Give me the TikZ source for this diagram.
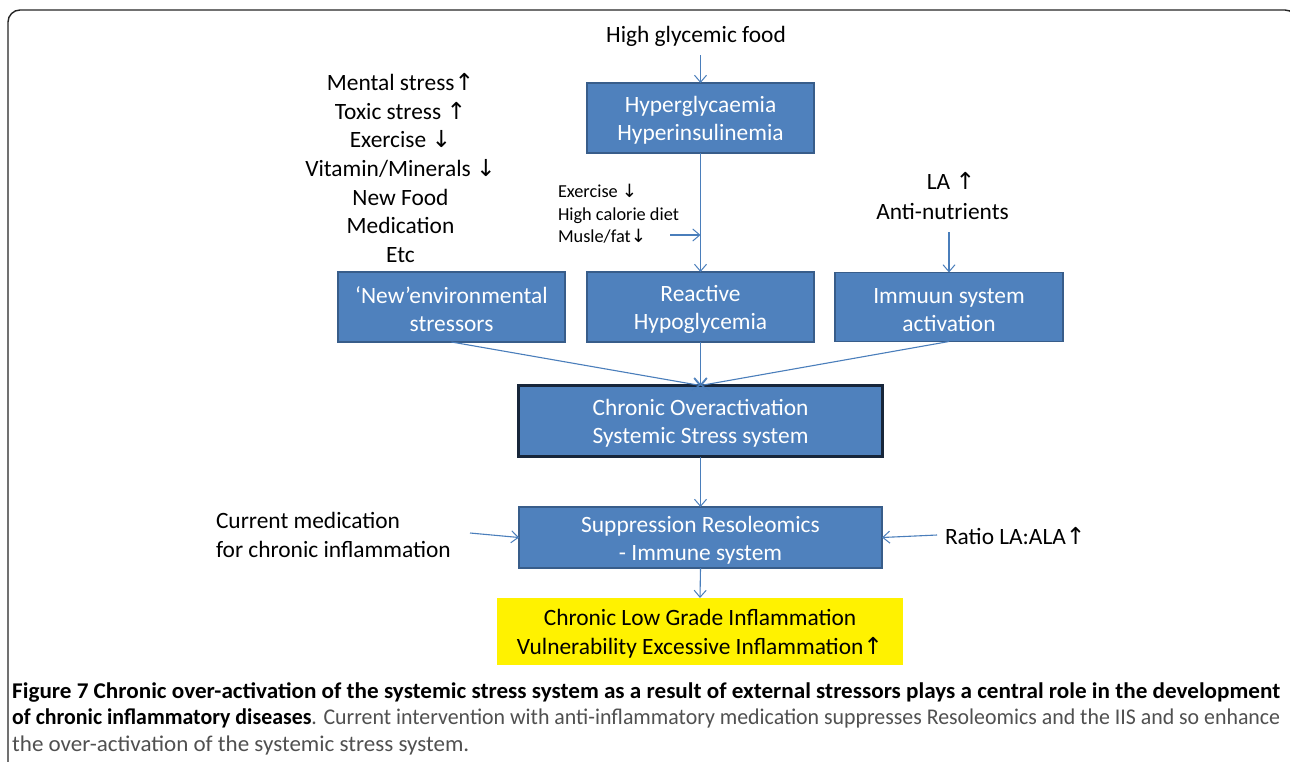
\documentclass[tikz,border=0pt]{standalone}
\usepackage{fontspec}
\usepackage{graphicx}
\setmainfont{Carlito}
\newfontfamily\arrfont{DejaVu Sans}
\usetikzlibrary{arrows.meta}
\definecolor{boxfill}{HTML}{4F81BD}
\definecolor{boxline}{HTML}{385D8A}
\definecolor{navyline}{HTML}{17263A}
\definecolor{arrc}{HTML}{4A7EBB}
\definecolor{capgray}{HTML}{505050}
\newcommand{\uparr}{{\arrfont\char"2191}}
\newcommand{\dnarr}{{\arrfont\char"2193}}
\newcommand{\lowstrut}{\rule{0pt}{21pt}}
\tikzset{
  bluebox/.style={draw=boxline, line width=1.3pt, fill=boxfill, text=white, align=center,
    inner sep=0pt, outer sep=0pt, font=\fontsize{23.4}{28}\selectfont},
  corebox/.style={bluebox, draw=navyline, line width=3pt},
  ylwbox/.style={fill=yellow, text=black, align=center, inner sep=0pt, outer sep=0pt,
    font=\fontsize{23.4}{28.5}\selectfont},
  lbl/.style={text=black, inner sep=0pt, outer sep=0pt, font=\fontsize{23.4}{28.7}\selectfont},
  smalllbl/.style={text=black, inner sep=0pt, outer sep=0pt, align=left, font=\fontsize{18.3}{22.5}\selectfont},
  arr/.style={draw=arrc, line width=1.1pt, -{Straight Barb[length=7pt,width=12pt,line width=1pt]}},
}
\begin{document}
\begin{tikzpicture}[x=1pt,y=-1pt]
\useasboundingbox (0,0) rectangle (1290,761);
\fill[white] (0,0) rectangle (1290,761);
\draw[black!85, line width=1.4pt, rounded corners=12pt] (8,10) rectangle (1297,800);

% top input
\node[lbl] (food) at (696,36) {High glycemic food};
\coordinate (foodstart) at (700.5,55);
\node[bluebox, minimum width=227pt, minimum height=70pt] (hyp) at (700.5,118) {\lowstrut Hyperglycaemia\\Hyperinsulinemia};

% left list
\node[lbl, align=center] (stressors) at (400.5,168) {Mental stress\uparr\\Toxic stress \uparr\\Exercise \dnarr\\Vitamin/Minerals \dnarr\\New Food\\Medication\\Etc};

% small list
\node[smalllbl, anchor=west] (diet) at (558,214) {Exercise \dnarr\\High calorie diet\\Musle/fat\dnarr};
\coordinate (dietstart) at (670,235);
\coordinate (dietend) at (700.5,235);

% LA
\node[lbl] (la) at (951,181) {LA \uparr};
\node[lbl] (anti) at (942.5,211) {Anti-nutrients};
\coordinate (antistart) at (949,232);

% row of boxes
\node[bluebox, minimum width=227pt, minimum height=70pt] (newenv) at (451.5,307) {\lowstrut`New'environmental\\stressors};
\node[bluebox, minimum width=227pt, minimum height=70pt] (react) at (700.5,307) {\lowstrut Reactive\\Hypoglycemia};
\node[bluebox, minimum width=228pt, minimum height=69pt] (immu) at (949,307) {\lowstrut Immuun system\\activation};

% core
\node[corebox, minimum width=364pt, minimum height=71pt] (core) at (700.5,421) {\lowstrut Chronic Overactivation\\Systemic Stress system};

% suppression
\node[bluebox, minimum width=363pt, minimum height=61pt] (supp) at (700.5,537.5) {\lowstrut Suppression Resoleomics\\- Immune system};
\node[lbl, align=left, anchor=west] (med) at (216,535) {Current medication\\for chronic inflammation};
\coordinate (medstart) at (470,533);
\node[lbl, anchor=west] (ratio) at (945,536) {Ratio LA:ALA\uparr};
\coordinate (ratiostart) at (937,535);

% outcome
\node[ylwbox, minimum width=406pt, minimum height=67pt] (outc) at (700,631.5) {\lowstrut Chronic Low Grade Inflammation\\Vulnerability Excessive Inflammation\uparr};

% connectors
\draw[arr] (foodstart) -- (hyp.north);
\draw[arr] (hyp.south) -- (react.north);
\draw[arr] (dietstart) -- (dietend);
\draw[arr] (antistart) -- (antistart |- immu.north);
\draw[arr] (newenv.south) -- (core.north);
\draw[arr] (react.south) -- (core.north);
\draw[arr] (immu.south) -- (core.north);
\draw[arr] (core.south) -- (supp.north);
\draw[arr] (medstart) -- (supp.west);
\draw[arr] (ratiostart) -- (supp.east);
\draw[arr] (supp.south) -- (outc.north);

% caption
\node[anchor=base west, inner sep=0pt] (cap1) at (12,698) {\resizebox{1268pt}{\height}{\fontsize{22.5}{26}\selectfont\bfseries Figure 7 Chronic over-activation of the systemic stress system as a result of external stressors plays a central role in the development}};
\node[anchor=base west, inner sep=0pt] (cap2) at (12,724) {\resizebox{1268pt}{\height}{\fontsize{22.5}{26}\selectfont\textbf{of chronic inflammatory diseases}\textcolor{capgray}{. Current intervention with anti-inflammatory medication suppresses Resoleomics and the IIS and so enhance}}};
\node[anchor=base west, inner sep=0pt] (cap3) at (12,751) {\resizebox{457pt}{\height}{\fontsize{22.5}{26}\selectfont\color{capgray}the over-activation of the systemic stress system.}};
\end{tikzpicture}
\end{document}
